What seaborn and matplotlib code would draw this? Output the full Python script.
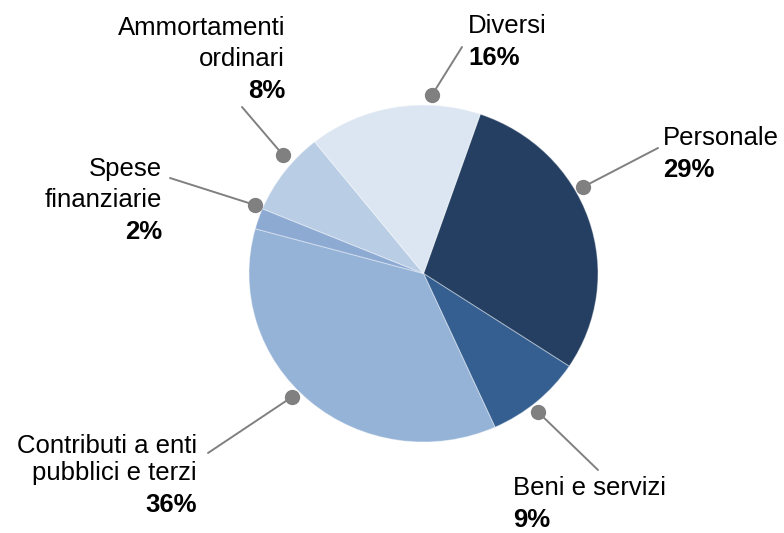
import matplotlib.pyplot as plt
import seaborn as sns

sns.set_theme(style="white")
plt.rcParams['font.family'] = ['Liberation Sans', 'DejaVu Sans']

labels = ["Personale", "Beni e servizi", "Contributi a enti\npubblici e terzi",
          "Spese\nfinanziarie", "Ammortamenti\nordinari", "Diversi"]
values = [29, 9, 36, 2, 8, 16]
colors = ["#243F61", "#355F91", "#95B3D7", "#8DAAD3", "#B9CDE5", "#DCE6F2"]

# label layout in image pixels: dot (x, y), line end (x, y), text x, first baseline, align
layout = [
    ((583, 187), (658, 148), 663, 145, "left"),
    ((538, 412), (598, 470), 513, 495, "left"),
    ((292, 397), (208, 453), 197, 453, "right"),
    ((255, 205), (170, 178), 162, 176, "right"),
    ((283, 155), (242, 107), 285, 35, "right"),
    ((432, 95), (462, 47), 468, 33, "left"),
]

W, H = 784, 533
cx, cy, rx, ry = 423.5, 273.5, 174.5, 168.5

fig = plt.figure(figsize=(W / 100, H / 100), dpi=100)
ax = fig.add_axes([0, 0, 1, 1])
ax.pie(values, colors=colors, startangle=71, counterclock=False,
       wedgeprops=dict(edgecolor=(1, 1, 1, 0.35), linewidth=0.8))
ax.set_aspect("auto")
ax.set_xlim(-cx / rx, (W - cx) / rx)
ax.set_ylim(-(H - cy) / ry, cy / ry)
ax.axis("off")


def px(x, y):
    return (x - cx) / rx, (cy - y) / ry


grey = "#808080"
for name, val, (dot, end, tx, by, ha) in zip(labels, values, layout):
    (dx, dy), (ex, ey) = px(*dot), px(*end)
    ax.plot([dx, ex], [dy, ey], color=grey, lw=1.4, zorder=3)
    ax.plot(dx, dy, "o", color=grey, ms=10, zorder=4)
    lines = name.split("\n")
    step = 27 if name.startswith("Contributi") else 31
    for i, line in enumerate(lines):
        ax.text(*px(tx, by + i * step), line, ha=ha, va="baseline",
                fontsize=18.5, color="black")
    ax.text(*px(tx, by + (len(lines) - 1) * step + 32), f"{val}%", ha=ha,
            va="baseline", fontsize=18.5, fontweight="bold", color="black")

fig.savefig("out.png", dpi=100)
